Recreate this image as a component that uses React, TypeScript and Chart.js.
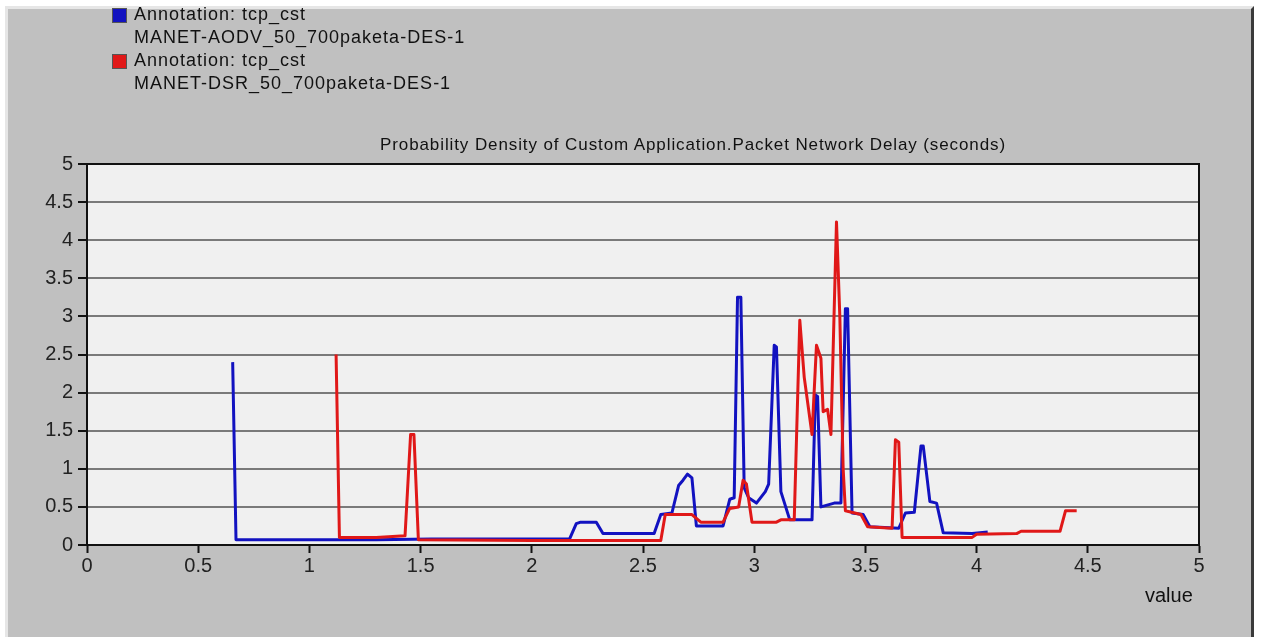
import React, { useEffect, useRef } from "react";
import { Chart, registerables } from "chart.js";

Chart.register(...registerables);

const aodvX = [0.655, 0.67, 1.3, 1.55, 2.17, 2.2, 2.22, 2.29, 2.32, 2.55, 2.58, 2.63, 2.66, 2.68, 2.7, 2.72, 2.74, 2.86, 2.89, 2.91, 2.925, 2.94, 2.955, 2.975, 3.01, 3.05, 3.065, 3.09, 3.1, 3.12, 3.16, 3.26, 3.275, 3.285, 3.3, 3.36, 3.39, 3.41, 3.42, 3.44, 3.49, 3.52, 3.65, 3.68, 3.72, 3.75, 3.76, 3.79, 3.82, 3.85, 3.98, 4.05];
const aodvY = [2.4, 0.07, 0.07, 0.08, 0.08, 0.28, 0.3, 0.3, 0.15, 0.15, 0.4, 0.42, 0.78, 0.85, 0.93, 0.88, 0.25, 0.25, 0.6, 0.62, 3.25, 3.25, 0.75, 0.62, 0.55, 0.7, 0.8, 2.62, 2.6, 0.7, 0.33, 0.33, 1.97, 1.95, 0.5, 0.55, 0.55, 3.1, 3.1, 0.42, 0.4, 0.24, 0.22, 0.42, 0.43, 1.3, 1.3, 0.57, 0.55, 0.16, 0.15, 0.17];

const dsrX = [1.12, 1.135, 1.3, 1.43, 1.455, 1.47, 1.49, 2.0, 2.58, 2.6, 2.72, 2.76, 2.86, 2.89, 2.93, 2.95, 2.965, 2.99, 3.1, 3.12, 3.18, 3.205, 3.225, 3.26, 3.28, 3.3, 3.31, 3.33, 3.345, 3.37, 3.385, 3.4, 3.41, 3.48, 3.51, 3.62, 3.635, 3.65, 3.665, 3.98, 4.0, 4.18, 4.2, 4.375, 4.4, 4.45];
const dsrY = [2.5, 0.1, 0.1, 0.12, 1.45, 1.45, 0.07, 0.06, 0.06, 0.4, 0.4, 0.3, 0.3, 0.48, 0.5, 0.85, 0.8, 0.3, 0.3, 0.33, 0.33, 2.95, 2.2, 1.45, 2.62, 2.45, 1.75, 1.78, 1.45, 4.24, 3.0, 1.0, 0.45, 0.4, 0.24, 0.22, 1.38, 1.35, 0.1, 0.1, 0.14, 0.15, 0.18, 0.18, 0.45, 0.45];

const legendLines = [
  { color: "#1212c0", title: "Annotation: tcp_cst", sub: "MANET-AODV_50_700paketa-DES-1" },
  { color: "#e01818", title: "Annotation: tcp_cst", sub: "MANET-DSR_50_700paketa-DES-1" },
];
const chartTitle = "Probability Density of Custom Application.Packet Network Delay (seconds)";
const xAxisLabel = "value";

const FONT = "'Liberation Sans', Arial, sans-serif";

const plotFrame = {
  id: "plotFrame",
  beforeDraw(chart: any) {
    const { ctx, chartArea: a } = chart;
    ctx.save();
    ctx.fillStyle = "#f0f0f0";
    ctx.fillRect(a.left, a.top, a.right - a.left, a.bottom - a.top);
    ctx.restore();
  },
  afterDatasetsDraw(chart: any) {
    const { ctx, chartArea: a } = chart;
    ctx.save();
    ctx.strokeStyle = "#111";
    ctx.lineWidth = 2;
    ctx.strokeRect(a.left, a.top, a.right - a.left, a.bottom - a.top);
    ctx.restore();
  },
};

const fmt = (v: any) => String(Number(v));

export default function App() {
  const ref = useRef<HTMLCanvasElement>(null);
  useEffect(() => {
    document.body.style.margin = "0";
    const pts = (xs: number[], ys: number[]) => xs.map((x, i) => ({ x, y: ys[i] }));
    const chart = new Chart(ref.current!, {
      type: "scatter",
      data: {
        datasets: [
          {
            label: "MANET-DSR_50_700paketa-DES-1",
            data: pts(dsrX, dsrY),
            showLine: true,
            borderColor: legendLines[1].color,
            borderWidth: 3,
            pointRadius: 0,
            borderJoinStyle: "round",
          },
          {
            label: "MANET-AODV_50_700paketa-DES-1",
            data: pts(aodvX, aodvY),
            showLine: true,
            borderColor: legendLines[0].color,
            borderWidth: 3,
            pointRadius: 0,
            borderJoinStyle: "round",
          },
        ],
      },
      options: {
        animation: false,
        responsive: false,
        layout: { padding: { left: 0, top: 164, right: 62, bottom: 0 } },
        plugins: { legend: { display: false }, title: { display: false }, tooltip: { enabled: false } },
        scales: {
          x: {
            type: "linear",
            min: 0,
            max: 5,
            afterFit: (s: any) => { s.height = 92; },
            ticks: { stepSize: 0.5, color: "#222", font: { family: FONT, size: 20 }, padding: 1, callback: fmt },
            grid: { drawOnChartArea: false, drawTicks: true, tickLength: 8, tickColor: "#111", tickWidth: 2 },
            border: { color: "#111", width: 2 },
          },
          y: {
            type: "linear",
            min: 0,
            max: 5,
            afterFit: (s: any) => { s.width = 87; },
            ticks: { stepSize: 0.5, color: "#222", font: { family: FONT, size: 20 }, padding: 5, callback: fmt },
            grid: { color: "#7a7a7a", lineWidth: 2, tickLength: 9, tickColor: "#111", tickWidth: 2 },
            border: { color: "#111", width: 2 },
          },
        },
      },
      plugins: [plotFrame],
    });
    return () => chart.destroy();
  }, []);

  return (
    <div style={{ position: "relative", width: 1261, height: 637, overflow: "hidden", background: "#fff", fontFamily: FONT }}>
      <div
        style={{
          position: "absolute",
          left: 5,
          top: 6,
          width: 1243,
          height: 640,
          background: "#c0c0c0",
          borderLeft: "3px solid #e6e6e6",
          borderTop: "3px solid #e6e6e6",
          borderRight: "3px solid #3a3a3a",
        }}
      />
      <canvas ref={ref} width={1261} height={637} style={{ position: "absolute", left: 0, top: 0 }} />
      {legendLines.map((l, i) => (
        <React.Fragment key={i}>
          <div style={{ position: "absolute", left: 112, top: 8 + i * 46, width: 13, height: 13, background: l.color, border: "1px solid #555" }} />
          <div style={{ position: "absolute", left: 134, top: 3 + i * 46, fontSize: 18, letterSpacing: 1, color: "#111", whiteSpace: "nowrap", lineHeight: "23px" }}>
            {l.title}
            <br />
            {l.sub}
          </div>
        </React.Fragment>
      ))}
      <div style={{ position: "absolute", left: 380, top: 135, fontSize: 17, letterSpacing: 0.9, color: "#111", whiteSpace: "nowrap" }}>
        {chartTitle}
      </div>
      <div style={{ position: "absolute", left: 1145, top: 584, fontSize: 20, color: "#111" }}>{xAxisLabel}</div>
    </div>
  );
}
